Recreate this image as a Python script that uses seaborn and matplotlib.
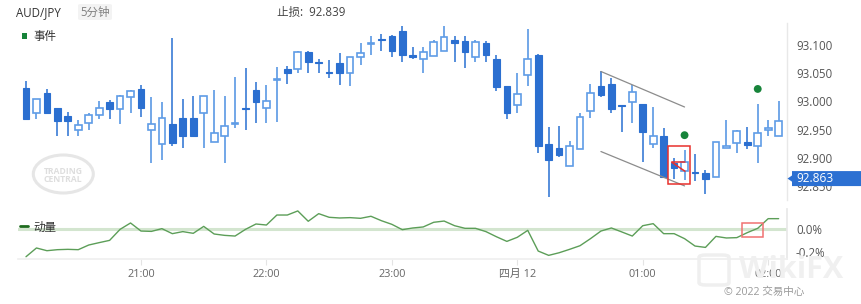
import numpy as np
import pandas as pd
import matplotlib
matplotlib.use("Agg")
import matplotlib.pyplot as plt
import matplotlib.patches as mpatches
import matplotlib.transforms as mtransforms
import seaborn as sns

# ---------------- data ----------------
opens = [93.024, 92.979, 93.014, 92.988, 92.974, 92.949, 92.961, 92.975, 92.998, 92.986,
         93.007, 93.022, 92.949, 92.925, 92.959, 92.970, 92.970, 92.979, 92.928, 92.939,
         92.959, 92.989, 93.020, 92.989, 93.038, 93.058, 93.058, 93.087, 93.070, 93.052,
         93.068, 93.050, 93.078, 93.102, 93.110, 93.116, 93.124, 93.082, 93.076, 93.080,
         93.089, 93.109, 93.107, 93.079, 93.103, 93.075, 93.028, 92.993, 93.046, 93.083,
         92.924, 92.918, 92.886, 92.916, 92.983, 93.027, 93.031, 92.994, 92.998, 92.995,
         92.924, 92.939, 92.891, 92.876, 92.875, 92.873, 92.865, 92.917, 92.927, 92.928,
         92.920, 92.950, 92.939]
highs = [93.036, 93.005, 93.022, 92.988, 92.981, 92.967, 92.979, 93.001, 93.002, 93.011,
         93.021, 93.029, 93.007, 92.999, 93.112, 93.004, 93.010, 93.010, 93.020, 93.010,
         93.043, 93.059, 93.034, 93.029, 93.061, 93.063, 93.089, 93.089, 93.076, 93.073,
         93.085, 93.079, 93.103, 93.116, 93.120, 93.117, 93.134, 93.096, 93.096, 93.109,
         93.134, 93.116, 93.116, 93.109, 93.107, 93.082, 93.028, 93.050, 93.128, 93.084,
         92.955, 92.956, 92.930, 92.980, 93.030, 93.053, 93.041, 92.994, 93.029, 92.995,
         92.990, 92.953, 92.900, 92.914, 92.907, 92.879, 92.928, 92.967, 92.950, 92.954,
         92.995, 92.967, 93.001]
lows = [92.969, 92.969, 92.979, 92.939, 92.939, 92.939, 92.949, 92.969, 92.969, 92.959,
        92.979, 92.972, 92.890, 92.896, 92.920, 92.918, 92.939, 92.917, 92.928, 92.891,
        92.952, 92.950, 92.962, 92.961, 92.963, 93.030, 93.050, 93.050, 93.050, 93.042,
        93.029, 93.028, 93.065, 93.083, 93.090, 93.079, 93.069, 93.075, 93.050, 93.080,
        93.089, 93.070, 93.060, 93.070, 93.070, 93.019, 92.969, 92.979, 93.028, 92.909,
        92.831, 92.902, 92.886, 92.916, 92.971, 93.007, 92.979, 92.946, 92.961, 92.893,
        92.918, 92.866, 92.863, 92.861, 92.859, 92.836, 92.865, 92.917, 92.908, 92.916,
        92.891, 92.938, 92.939]
closes = [92.969, 93.005, 92.979, 92.965, 92.966, 92.958, 92.975, 92.989, 92.986, 93.009,
          93.018, 92.989, 92.959, 92.970, 92.927, 92.939, 92.939, 93.010, 92.943, 92.956,
          92.961, 92.986, 92.999, 93.000, 93.040, 93.050, 93.088, 93.069, 93.068, 93.050,
          93.051, 93.079, 93.085, 93.104, 93.108, 93.090, 93.082, 93.078, 93.087, 93.106,
          93.114, 93.103, 93.087, 93.106, 93.083, 93.025, 92.979, 93.013, 93.076, 92.921,
          92.896, 92.905, 92.921, 92.973, 93.014, 93.012, 92.986, 92.992, 93.017, 92.946,
          92.939, 92.866, 92.881, 92.892, 92.873, 92.862, 92.928, 92.920, 92.948, 92.923,
          92.944, 92.952, 92.966]
momentum = [-0.244, -0.167, -0.191, -0.182, -0.179, -0.182, -0.141, -0.120, -0.100, -0.003,
            0.053, -0.018, -0.021, 0.003, -0.041, -0.023, -0.038, 0.023, -0.044, -0.056,
            -0.062, -0.003, 0.044, 0.035, 0.123, 0.123, 0.159, 0.068, 0.135, 0.103,
            0.097, 0.100, 0.094, 0.112, 0.073, 0.041, -0.006, 0.009, 0.018, 0.059,
            0.070, 0.029, 0.006, 0.006, -0.023, -0.068, -0.109, -0.073, -0.012, -0.194,
            -0.232, -0.209, -0.179, -0.147, -0.085, -0.018, 0.009, -0.026, -0.062, 0.029,
            0.047, -0.041, -0.041, -0.085, -0.150, -0.162, -0.065, -0.079, -0.076, -0.032,
            0.006, 0.091, 0.091]

time_tick_pos = [11, 23, 35, 47, 59, 71]
time_tick_labels = ["21:00", "22:00", "23:00", "四月 12", "01:00", "02:00"]
price_ticks = [92.85, 92.90, 92.95, 93.00, 93.05, 93.10]
price_tick_labels = ["92.850", "92.900", "92.950", "93.000", "93.050", "93.100"]
mom_ticks = [-0.2, 0.0]
mom_tick_labels = ["-0.2%", "0.0%"]
event_idx = [63, 70]
event_price = [92.940, 93.022]
channel_x = [55, 63]
channel_upper = [93.053, 92.990]
channel_lower = [92.911, 92.850]
box_x = [61.45, 63.5]
box_price = [92.853, 92.921]
marker_x = [61.77, 63.04]
marker_price = [92.892, 92.876]
mom_box_x = [68.46, 70.53]
mom_box_val = [-0.068, 0.050]
last_price = 92.863
stop_loss = 92.839
symbol = "AUD/JPY"
interval = "5分钟"

# ---------------- style ----------------
sns.set_theme(style="white")
plt.rcParams['font.family'] = ['Open Sans', 'Noto Sans CJK SC', 'DejaVu Sans']
plt.rcParams['axes.unicode_minus'] = False

W, H = 861, 304
fig = plt.figure(figsize=(W / 100, H / 100), dpi=100)
fig.patch.set_facecolor("white")

def fx(px):
    return px / W

def fy(py):
    return 1 - py / H

left_px, right_px = 18, 787
ax = fig.add_axes([fx(left_px), fy(200), fx(right_px - left_px), (200 - 23) / H])
ax2 = fig.add_axes([fx(left_px), fy(259), fx(right_px - left_px), (259 - 209) / H])

df = pd.DataFrame({"idx": np.arange(len(opens)), "open": opens, "high": highs,
                   "low": lows, "close": closes, "mom": momentum})
up = (df["close"] >= df["open"]).to_numpy()

fill_col = "#2b6fd0"
hollow_edge = "#5f9ce6"
wick_cols = np.where(up, "#5a98e4", "#3a7bd6")

# wicks
ax.vlines(df["idx"], df["low"], df["high"], colors=wick_cols, linewidth=1.2, zorder=2)
bottom = np.minimum(df["open"], df["close"]).to_numpy()
height = np.maximum(np.abs(df["close"] - df["open"]).to_numpy(), 0.0008)
ax.bar(df["idx"][~up], height[~up], bottom=bottom[~up], width=0.64,
       color=fill_col, edgecolor=fill_col, linewidth=0.8, zorder=3)
ax.bar(df["idx"][up], height[up], bottom=bottom[up], width=0.64,
       color="white", edgecolor=hollow_edge, linewidth=1.2, zorder=3)

# channel lines
ax.plot(channel_x, channel_upper, color="#8c8c8c", linewidth=0.9, zorder=4)
ax.plot(channel_x, channel_lower, color="#8c8c8c", linewidth=0.9, zorder=4)

# event dots
sns.scatterplot(x=event_idx, y=event_price, ax=ax, color="#17843a", s=32,
                edgecolor="none", zorder=5, legend=False)

# red marker box
ax.add_patch(mpatches.Rectangle((box_x[0], box_price[0]), box_x[1] - box_x[0],
                                box_price[1] - box_price[0], fill=False,
                                edgecolor="#e8302c", linewidth=1.1, zorder=6))
ax.plot(marker_x, [marker_price[0], marker_price[0]], color="#e8302c", linewidth=1.1, zorder=6)
ax.plot(marker_x, marker_price, color="#e8302c", linewidth=1.1, zorder=6)

ax.set_xlim(-0.765, 72.8)
ax.set_ylim(92.825, 93.139)
ax.set_yticks(price_ticks)
ax.set_yticklabels(price_tick_labels)
ax.yaxis.tick_right()
ax.tick_params(axis="y", length=0, pad=6.5, labelsize=8.3, labelcolor="#555555")
ax.set_xticks([])
for s in ["top", "left", "bottom"]:
    ax.spines[s].set_visible(False)
ax.spines["right"].set_color("#e8e8e8")
ax.spines["right"].set_linewidth(1)

# last price label
trans = mtransforms.blended_transform_factory(ax.transAxes, ax.transData)
ax_w = right_px - left_px
def axfx(px):
    return (px - left_px) / ax_w
hh = 0.0133
poly = mpatches.Polygon([(axfx(787.5), last_price), (axfx(792), last_price + 0.0055),
                         (axfx(792), last_price + hh), (axfx(861), last_price + hh),
                         (axfx(861), last_price - hh), (axfx(792), last_price - hh),
                         (axfx(792), last_price - 0.0055)], closed=True,
                        transform=trans, facecolor="#2c70d2", edgecolor="none",
                        clip_on=False, zorder=10)
ax.add_patch(poly)
ax.text(axfx(796), last_price, f"{last_price:.3f}", transform=trans, ha="left",
        va="center", color="white", fontsize=8.6, zorder=11, clip_on=False)

# momentum panel
ax2.axhline(0, color="#d3e5cf", linewidth=2.2, zorder=1)
sns.lineplot(x=df["idx"], y=df["mom"], ax=ax2, color="#5c9e58", linewidth=1.0, zorder=3)
ax2.add_patch(mpatches.Rectangle((mom_box_x[0], mom_box_val[0]), mom_box_x[1] - mom_box_x[0],
                                 mom_box_val[1] - mom_box_val[0], fill=False,
                                 edgecolor="#f07272", linewidth=1.1, zorder=4))
ax2.set_xlim(-0.765, 72.8)
ax2.set_ylim(-0.264, 0.176)
ax2.set_yticks(mom_ticks)
ax2.set_yticklabels(mom_tick_labels)
ax2.yaxis.tick_right()
ax2.tick_params(axis="y", length=0, pad=6.5, labelsize=8.3, labelcolor="#555555")
ax2.set_xticks(time_tick_pos)
ax2.set_xticklabels(time_tick_labels)
ax2.tick_params(axis="x", length=4, width=0.8, color="#e4e4e4", pad=3,
                labelsize=7.8, labelcolor="#666666", bottom=True)
ax2.set_xlabel("")
ax2.set_ylabel("")
for s in ["top", "left"]:
    ax2.spines[s].set_visible(False)
ax2.spines["right"].set_color("#e8e8e8")
ax2.spines["bottom"].set_color("#f0f0f0")

# header texts
fig.text(fx(16), fy(12.5), symbol, ha="left", va="center", fontsize=8.3, color="#333333")
fig.patches.append(mpatches.FancyBboxPatch((fx(78), fy(20)), fx(34), 16 / H,
                                           boxstyle="round,pad=0,rounding_size=0.004",
                                           transform=fig.transFigure, facecolor="#f3f3f3",
                                           edgecolor="none", zorder=0))
fig.text(fx(95), fy(12), interval, ha="center", va="center", fontsize=8.3, color="#808080")
fig.text(fx(277), fy(12.5), f"止损:  {stop_loss:.3f}", ha="left", va="center",
         fontsize=8.3, color="#444444")

# legends
fig.patches.append(mpatches.Rectangle((fx(22), fy(38.7)), fx(5.3), 5.3 / H,
                                      transform=fig.transFigure, facecolor="#17843a",
                                      edgecolor="none"))
fig.text(fx(33), fy(36.5), "事件", ha="left", va="center", fontsize=8.3, color="#333333")
fig.lines.append(plt.Line2D([fx(19.5), fx(28)], [fy(225.7), fy(225.7)],
                            transform=fig.transFigure, color="#1e6b1e", linewidth=2))
fig.text(fx(33.5), fy(227.5), "动量", ha="left", va="center", fontsize=8.3, color="#333333")

# watermarks
fig.patches.append(mpatches.Ellipse((fx(63.3), fy(174)), fx(60), 38 / H,
                                    transform=fig.transFigure, fill=False,
                                    edgecolor="#e6e6e6", linewidth=2.2))
fig.text(fx(63), fy(171.3), "TRADING", ha="center", va="center", fontsize=6.2,
         fontweight="bold", color="#dedede")
fig.text(fx(63), fy(179.3), "CENTRAL", ha="center", va="center", fontsize=6.2,
         fontweight="bold", color="#dedede")
fig.patches.append(mpatches.FancyBboxPatch((fx(699), fy(285)), fx(30), 30 / H,
                                           boxstyle="round,pad=0,rounding_size=0.008",
                                           transform=fig.transFigure, fill=False,
                                           edgecolor="#efefef", linewidth=2.5))
fig.text(fx(791), fy(270), "WikiFX", ha="center", va="center", fontsize=22,
         fontweight="bold", color="#f0f0f0", zorder=0)
fig.text(fx(764), fy(292.5), "© 2022 交易中心", ha="center", va="center",
         fontsize=7.6, color="#9a9a9a")

fig.savefig("out.png", dpi=100, facecolor="white")
